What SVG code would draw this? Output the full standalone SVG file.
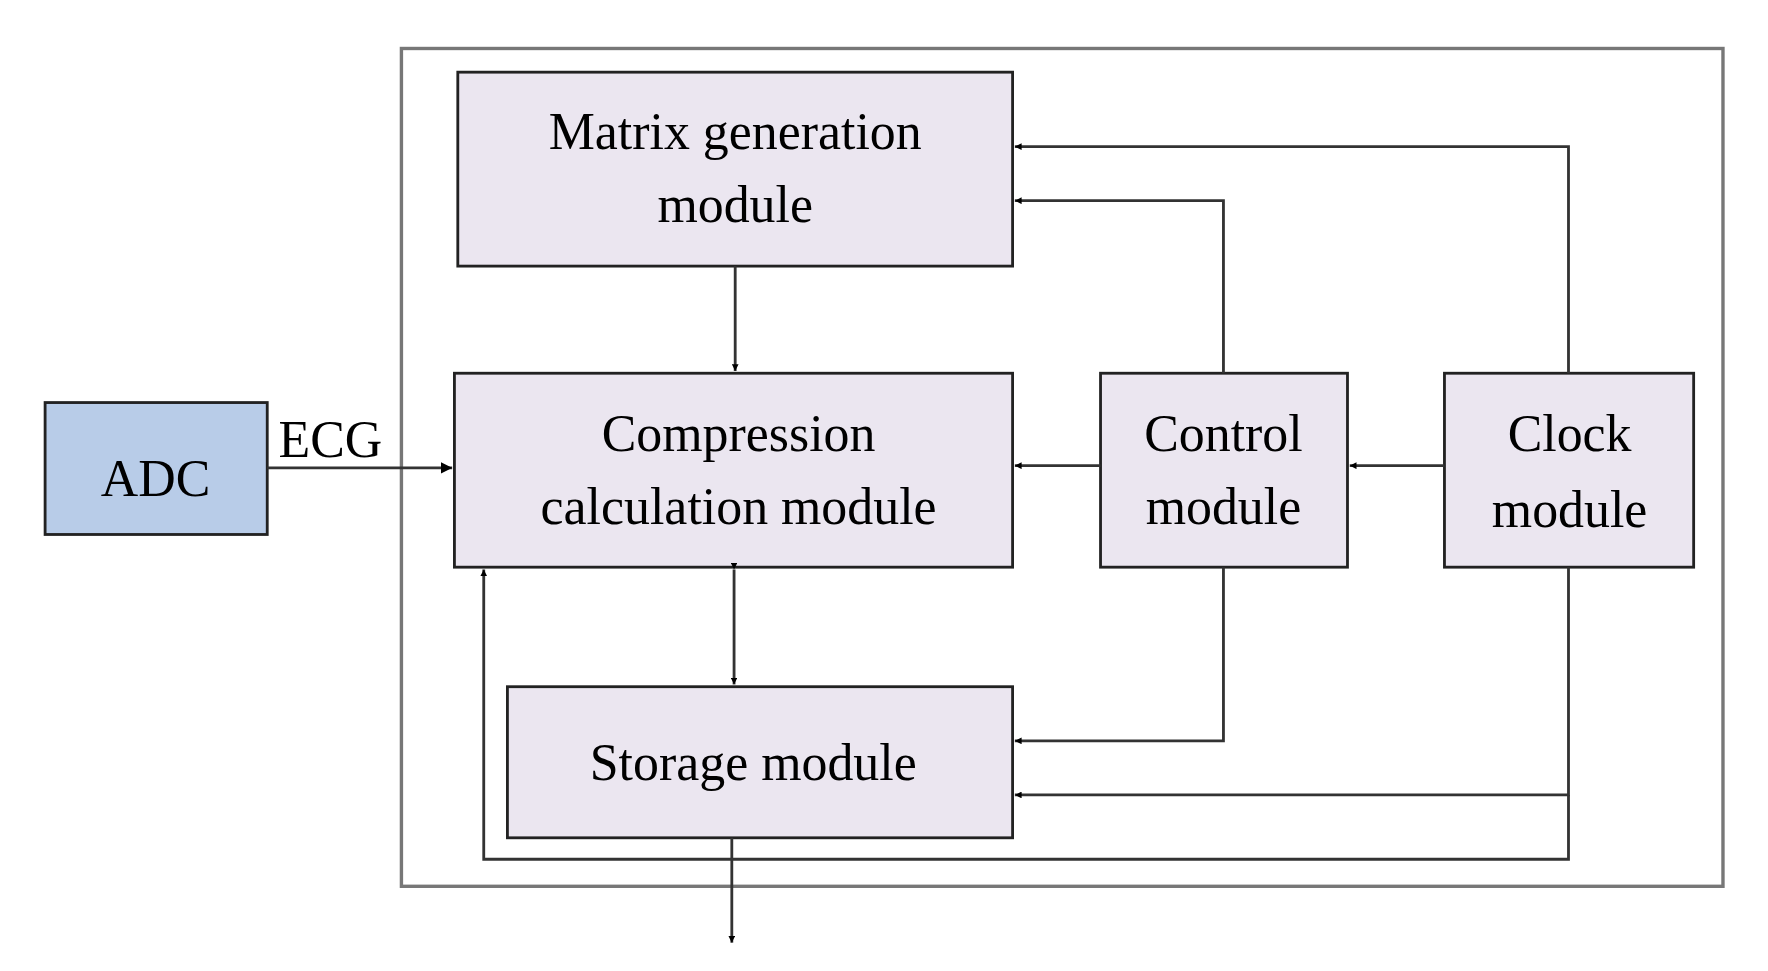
<svg xmlns="http://www.w3.org/2000/svg" width="1768" height="971" viewBox="0 0 1768 971">
<style>
.box{fill:#ebe6f0;stroke:#222;stroke-width:2.5}
.t{font-family:"Liberation Serif",serif;font-size:46px;fill:#000;text-anchor:middle}
.c{fill:none;stroke:#333;stroke-width:2.5}
</style>
<defs>
<marker id="a" viewBox="0 0 10 10" refX="10" refY="5" markerWidth="6" markerHeight="6" markerUnits="userSpaceOnUse" orient="auto"><path d="M0,0L10,5L0,10z" fill="#000"/></marker>
<marker id="b" viewBox="0 0 10 10" refX="10" refY="5" markerWidth="10" markerHeight="10" markerUnits="userSpaceOnUse" orient="auto"><path d="M0,0L10,5L0,10z" fill="#000"/></marker>
</defs>
<rect width="1768" height="971" fill="#fff"/>
<g transform="scale(1.1276)">
<rect x="356" y="43" width="1172" height="743" fill="none" stroke="#777" stroke-width="3"/>
<g id="adc"><rect x="40" y="357" width="197" height="117" fill="#b8cce8" stroke="#222" stroke-width="2.5"/><text class="t" x="138" y="440" font-size="48">ADC</text></g>
<g id="matrix"><rect class="box" x="406" y="64" width="492" height="172"/><text class="t" x="652" y="132">Matrix generation</text><text class="t" x="652" y="197">module</text></g>
<g id="compression"><rect class="box" x="403" y="331" width="495" height="172"/><text class="t" x="655" y="400">Compression</text><text class="t" x="655" y="465">calculation module</text></g>
<g id="control"><rect class="box" x="976" y="331" width="219" height="172"/><text class="t" x="1085" y="400">Control</text><text class="t" x="1085" y="465">module</text></g>
<g id="clock"><rect class="box" x="1281" y="331" width="221" height="172"/><text class="t" x="1392" y="400">Clock</text><text class="t" x="1392" y="467">module</text></g>
<g id="storage"><rect class="box" x="450" y="609" width="448" height="134"/><text class="t" x="668" y="692">Storage module</text></g>
<g id="connectors">
<path class="c" d="M1391,331V130H900" marker-end="url(#a)"/>
<path class="c" d="M1085,331V178H900" marker-end="url(#a)"/>
<path class="c" d="M652,236V329" marker-end="url(#a)"/>
<path class="c" d="M976,413H900" marker-end="url(#a)"/>
<path class="c" d="M1281,413H1197" marker-end="url(#a)"/>
<path class="c" d="M237,415H401" marker-end="url(#b)" stroke="#000"/>
<path class="c" d="M651,505V607" marker-start="url(#a)" marker-end="url(#a)" stroke="#000"/>
<path class="c" d="M1085,503V657H900" marker-end="url(#a)"/>
<path class="c" d="M1391,503V705H900" marker-end="url(#a)"/>
<path class="c" d="M1391,705V762H429V505" marker-end="url(#a)"/>
<path class="c" d="M649,743V836" marker-end="url(#a)" stroke="#000"/>
</g>
<text x="293" y="405" style="font-family:'Liberation Serif',serif;font-size:46px;text-anchor:middle">ECG</text>
</g>
</svg>
